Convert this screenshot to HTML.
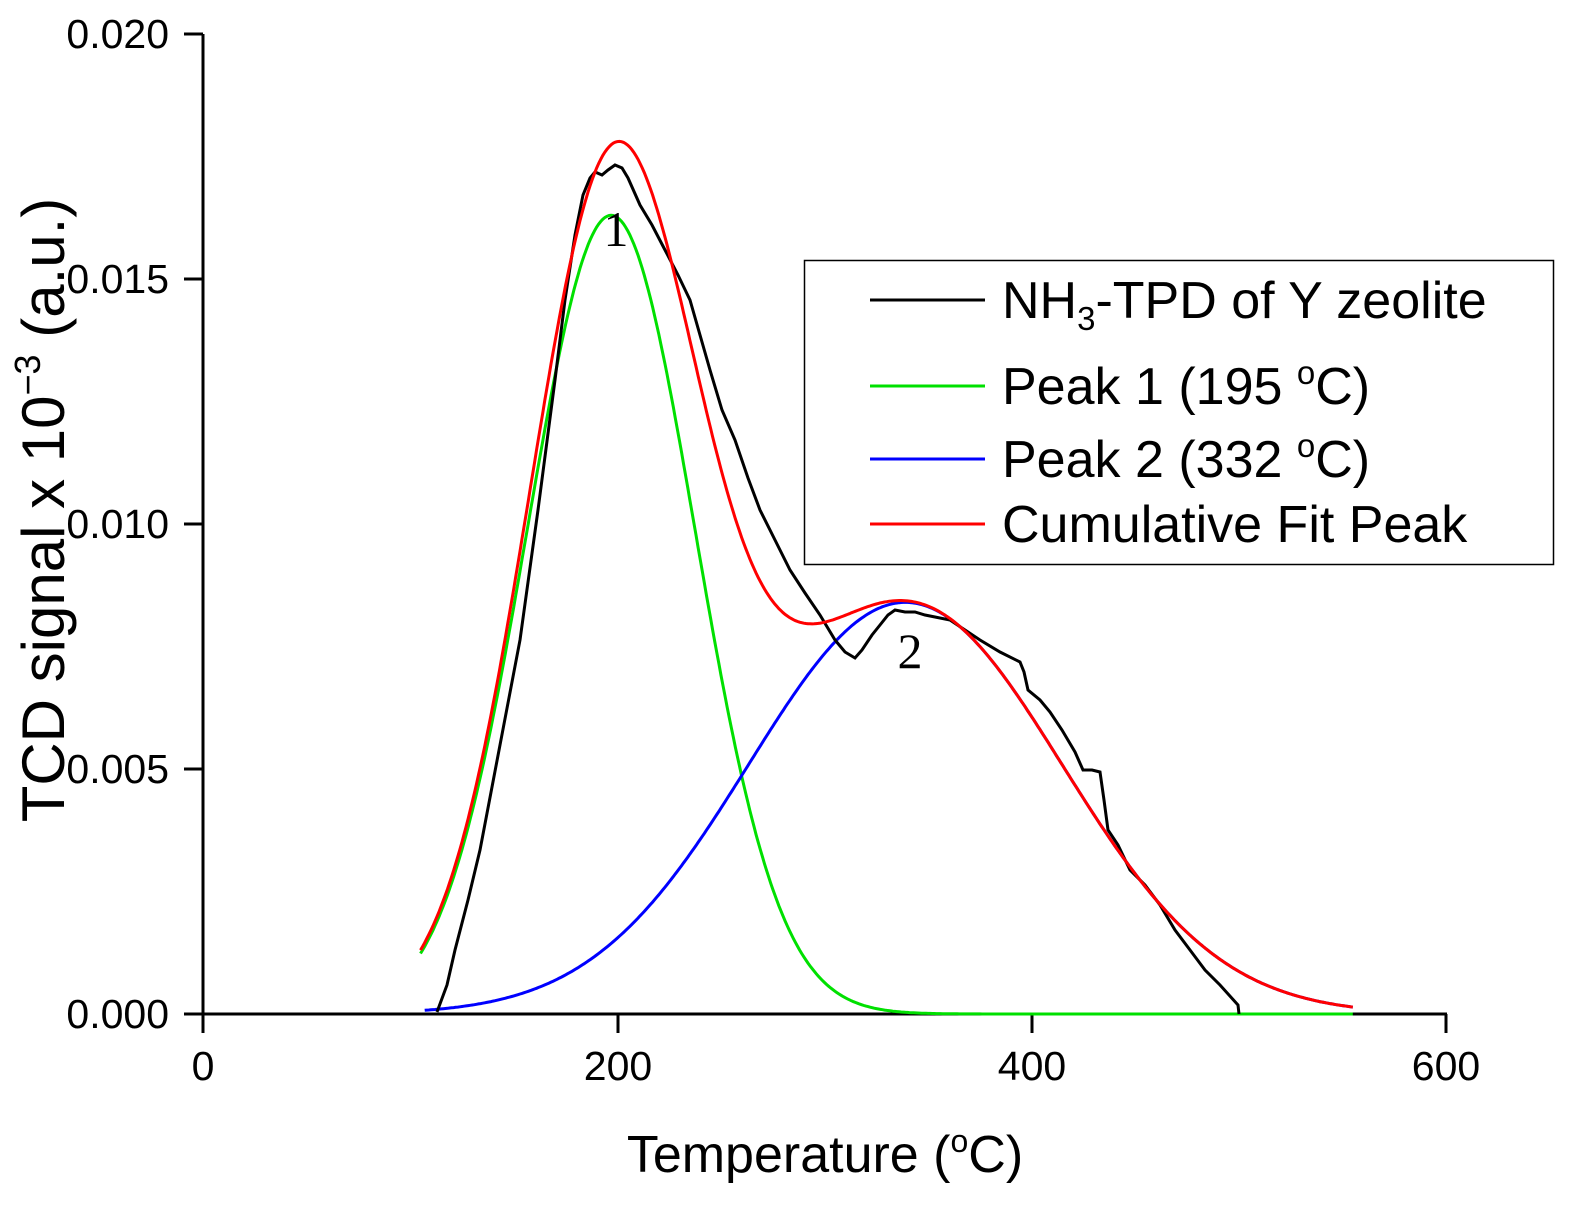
<!DOCTYPE html>
<html><head><meta charset="utf-8"><style>
body{margin:0;background:#fff}
svg{display:block;font-family:"Liberation Sans",sans-serif}
</style></head><body>
<svg id="s" width="1586" height="1215" viewBox="0 0 1586 1215" xmlns="http://www.w3.org/2000/svg">
<rect width="1586" height="1215" fill="#fff"/>
<g stroke="#000" stroke-width="3" fill="none">
<line x1="203" y1="34" x2="203" y2="1015"/>
<line x1="201.5" y1="1014" x2="1447" y2="1014"/>
<line x1="184" y1="34" x2="203" y2="34"/>
<line x1="184" y1="279" x2="203" y2="279"/>
<line x1="184" y1="524" x2="203" y2="524"/>
<line x1="184" y1="769" x2="203" y2="769"/>
<line x1="184" y1="1014" x2="203" y2="1014"/>
<line x1="203" y1="1014" x2="203" y2="1033"/>
<line x1="618" y1="1014" x2="618" y2="1033"/>
<line x1="1032" y1="1014" x2="1032" y2="1033"/>
<line x1="1446" y1="1014" x2="1446" y2="1033"/>
</g>
<g font-size="41" text-anchor="end">
<text x="169" y="48">0.020</text>
<text x="169" y="293">0.015</text>
<text x="169" y="538">0.010</text>
<text x="169" y="783">0.005</text>
<text x="169" y="1028">0.000</text>
</g>
<g font-size="41" text-anchor="middle">
<text x="203" y="1080">0</text>
<text x="618" y="1080">200</text>
<text x="1032" y="1080">400</text>
<text x="1446" y="1080">600</text>
</g>
<text x="825" y="1172" font-size="52" text-anchor="middle">Temperature (<tspan font-size="32" dy="-20">o</tspan><tspan dy="20">C)</tspan></text>
<text transform="translate(64,510) rotate(-90)" font-size="60" text-anchor="middle">TCD signal x 10<tspan font-size="36" dy="-24">−3</tspan><tspan dy="24"> (a.u.)</tspan></text>
<path id="g" fill="none" stroke="#00e000" stroke-width="3"/>
<path id="b" fill="none" stroke="#0000ff" stroke-width="3"/>
<path id="k" fill="none" stroke="#000" stroke-width="3" d="M437,1012 L447,985 L455,950 L468,900 L480,850 L500,745 L520,640 L538,510 L555,380 L565,300 L575,235 L583,195 L590,178 L595,172 L602,175 L608,170 L615,165 L622,168 L628,178 L640,205 L652,225 L665,250 L678,275 L690,300 L700,335 L710,370 L722,410 L735,440 L748,478 L760,510 L775,540 L790,570 L805,593 L820,615 L835,640 L845,652 L855,658 L862,650 L872,635 L880,625 L888,615 L895,610 L905,612 L915,612 L925,615 L935,617 L950,620 L965,630 L980,640 L1000,652 L1020,662 L1024,672 L1028,690 L1040,700 L1050,712 L1062,730 L1075,752 L1083,770 L1092,770 L1100,772 L1104,800 L1108,830 L1118,845 L1130,870 L1145,885 L1160,905 L1175,930 L1190,950 L1205,970 L1220,985 L1238,1005 L1239,1014"/>
<path id="r" fill="none" stroke="#ff0000" stroke-width="3"/>
<text x="616" y="246" font-family="Liberation Serif,serif" font-size="50" text-anchor="middle">1</text>
<text x="910" y="668" font-family="Liberation Serif,serif" font-size="50" text-anchor="middle">2</text>
<rect x="804.5" y="260.5" width="749" height="304" fill="#fff" stroke="#000" stroke-width="1.5"/>
<g stroke-width="3">
<line x1="870" y1="300" x2="985" y2="300" stroke="#000"/>
<line x1="870" y1="386" x2="985" y2="386" stroke="#00e000"/>
<line x1="870" y1="459" x2="985" y2="459" stroke="#0000ff"/>
<line x1="870" y1="524" x2="985" y2="524" stroke="#ff0000"/>
</g>
<g font-size="52">
<text x="1002" y="318">NH<tspan font-size="33" dy="12">3</tspan><tspan dy="-12">-TPD of Y zeolite</tspan></text>
<text x="1002" y="404">Peak 1 (195 <tspan font-size="33" dy="-20">o</tspan><tspan dy="20">C)</tspan></text>
<text x="1002" y="477">Peak 2 (332 <tspan font-size="33" dy="-20">o</tspan><tspan dy="20">C)</tspan></text>
<text x="1002" y="542">Cumulative Fit Peak</text>
</g>
</svg>
<script>
function X(t){return 203+t*2.0717;}
function Y(v){return 1014-v*49000;}
function G(t){return 0.0163*Math.exp(-Math.pow(t-197,2)/(2*40.5*40.5));}
function B(t){return 0.0084*Math.exp(-Math.pow(t-339,2)/(2*75.6*75.6));}
function mk(f,a,b){var s="";for(var t=a;t<=b+1e-9;t+=1){s+=(s?"L":"M")+X(t).toFixed(1)+","+Y(f(t)).toFixed(1);}return s;}
document.getElementById("g").setAttribute("d",mk(G,105,555));
document.getElementById("b").setAttribute("d",mk(B,107,555));
document.getElementById("r").setAttribute("d",mk(function(t){return G(t)+B(t);},105,555));
</script>
</body></html>
